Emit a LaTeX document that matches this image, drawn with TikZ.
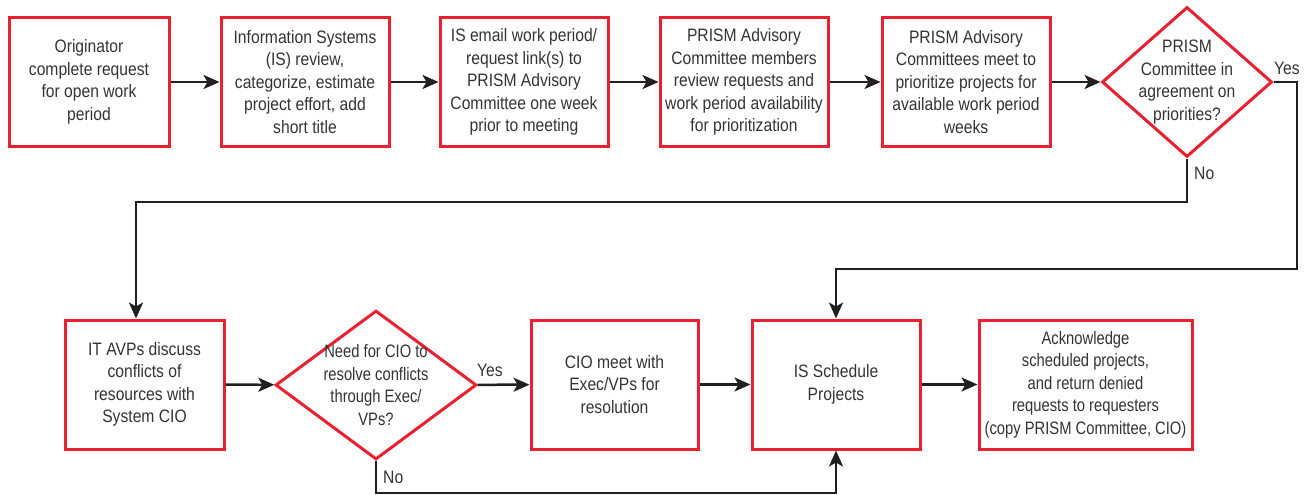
\documentclass[tikz,border=0pt]{standalone}
\usepackage{fontspec}
\setmainfont{Liberation Sans}[FakeStretch=0.87]
\newfontfamily\narrowsans{Liberation Sans}[FakeStretch=0.82]
\usetikzlibrary{arrows.meta,shapes.geometric}
\definecolor{boxred}{HTML}{E8202F}
\definecolor{linek}{HTML}{231F20}
\definecolor{txtc}{HTML}{333333}
\begin{document}
\begin{tikzpicture}[x=1pt,y=-1pt,
  box/.style={draw=boxred,line width=3pt,minimum height=128pt,inner sep=0pt},
  dia/.style={draw=boxred,line width=3pt,diamond,inner sep=0pt},
  txt/.style={align=center,text=txtc,font=\fontsize{18}{22.5}\selectfont},
  ntxt/.style={txt,font=\narrowsans\fontsize{18}{22.5}\selectfont},
  lab/.style={text=txtc,font=\fontsize{18}{20}\selectfont,inner sep=0pt},
  conn/.style={draw=linek,line width=2.5pt},
  arr/.style={conn,-{Stealth[length=16pt,width=14pt,inset=4pt]}}]
\useasboundingbox (0,0) rectangle (1306,495);
% top row
\node[box,minimum width=160pt] (b1) at (89,82) {};
\node[txt] at (b1) {Originator\\complete request\\for open work\\period};
\node[box,minimum width=168pt] (b2) at (305,82) {};
\node[txt] at (b2) {Information Systems\\(IS) review,\\categorize, estimate\\project effort, add\\short title};
\node[box,minimum width=168pt] (b3) at (524,82) {};
\node[txt] at (b3) {IS email work period/\\request link(s) to\\PRISM Advisory\\Committee one week\\prior to meeting};
\node[box,minimum width=168pt] (b4) at (744,82) {};
\node[txt] at (b4) {PRISM Advisory\\Committee members\\review requests and\\work period availability\\for prioritization};
\node[box,minimum width=168pt] (b5) at (966,82) {};
\node[txt] at (b5) {PRISM Advisory\\Committees meet to\\prioritize projects for\\available work period\\weeks};
\node[dia,minimum width=170pt,minimum height=150pt] (d1) at (1187,82) {};
\node[txt] at (d1) {PRISM\\Committee in\\agreement on\\priorities?};
% bottom row
\node[box,minimum width=159pt,minimum height=129pt] (c1) at (144.5,384.5) {};
\node[txt] at (c1) {IT AVPs discuss\\conflicts of\\resources with\\System CIO};
\node[dia,minimum width=201pt,minimum height=149pt] (d2) at (376,385) {};
\node[ntxt] at (d2) {Need for CIO to\\resolve conflicts\\through Exec/\\VPs?};
\node[box,minimum width=167pt,minimum height=129pt] (c2) at (614.5,384.5) {};
\node[txt] at (c2) {CIO meet with\\Exec/VPs for\\resolution};
\node[box,minimum width=168pt,minimum height=129pt] (c3) at (836,384.5) {};
\node[txt] at (c3) {IS Schedule\\Projects};
\node[box,minimum width=213pt,minimum height=129pt] (c4) at (1085.5,384.5) {};
\node[ntxt] at (c4) {Acknowledge\\scheduled projects,\\and return denied\\requests to requesters\\(copy PRISM Committee, CIO)};
% connectors
\draw[arr] (b1) -- (b2);
\draw[arr] (b2) -- (b3);
\draw[arr] (b3) -- (b4);
\draw[arr] (b4) -- (b5);
\draw[arr] (b5) -- (d1);
\coordinate (yr) at (1297,269);
\draw[arr] (d1.east) -| (yr) -| (c3.north);
\coordinate (nl) at (136,202);
\draw[arr] (d1.south) |- (nl) -- (nl |- c1.north);
\draw[arr] (c1) -- (d2);
\draw[arr] (d2) -- (c2);
\draw[arr] (c2) -- (c3);
\draw[arr] (c3) -- (c4);
\coordinate (nb) at (376,493);
\draw[arr] (d2.south) -- (nb) -| (c3.south);
% labels
\node[lab,anchor=west] (ly1) at (1274,68) {Yes};
\node[lab,anchor=west] (ln1) at (1194,173) {No};
\node[lab,anchor=west] (ly2) at (477,370) {Yes};
\node[lab,anchor=west] (ln2) at (383,477) {No};
\end{tikzpicture}
\end{document}
